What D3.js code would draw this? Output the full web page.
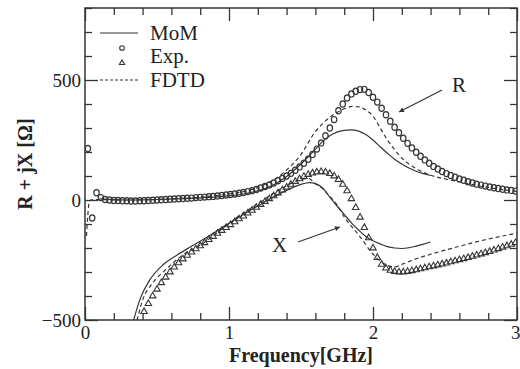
<!DOCTYPE html>
<html>
<head>
<meta charset="utf-8">
<script src="https://cdn.jsdelivr.net/npm/d3@7"></script>
<style>
  html, body { margin: 0; padding: 0; background: #fff; }
  svg { display: block; }
  text { font-family: "Liberation Serif", "DejaVu Serif", serif; fill: #222; }
</style>
</head>
<body>
<svg id="chart" width="520" height="369"></svg>
<script>
// ---------- data ----------
const xTickMajor = [0, 1, 2, 3];
const yTickMajor = [-500, 0, 500];
const legendLabels = ["MoM", "Exp.", "FDTD"];

// Experimental samples (circles = R, triangles = X)
const fExp = [0.02,0.05,0.08,0.11,0.14,0.17,0.20,0.23,0.26,0.29,0.32,0.35,0.38,0.41,0.44,0.47,0.50,0.53,0.56,0.59,
  0.62,0.65,0.68,0.71,0.74,0.77,0.80,0.83,0.86,0.89,0.92,0.95,0.98,1.01,1.04,1.07,1.10,1.13,1.16,1.19,
  1.22,1.25,1.28,1.31,1.34,1.37,1.40,1.43,1.46,1.49,1.52,1.55,1.58,1.61,1.64,1.67,1.70,1.73,1.76,1.79,
  1.82,1.85,1.88,1.91,1.94,1.97,2.00,2.03,2.06,2.09,2.12,2.15,2.18,2.21,2.24,2.27,2.30,2.33,2.36,2.39,
  2.42,2.45,2.48,2.51,2.54,2.57,2.60,2.63,2.66,2.69,2.72,2.75,2.78,2.81,2.84,2.87,2.90,2.93,2.96,2.99];
const rExp = [215,-75,30,10,2,0,-2,-2,-3,-3,-4,-4,-3,-3,-2,-1,0,1,2,3,
  4,5,6,7,8,10,11,12,14,15,17,19,21,23,25,28,31,35,39,44,
  50,56,63,71,80,90,100,111,124,138,153,170,190,212,238,268,300,335,372,400,
  425,442,453,460,461,448,428,408,382,355,328,303,280,257,236,217,199,182,167,153,
  140,129,119,110,102,95,88,82,76,71,66,62,58,54,51,48,45,42,40,37];
const xExp = [null,null,null,null,null,null,null,null,null,null,null,null,null,-465,-432,-400,-372,-345,-322,-300,
  -280,-262,-246,-231,-217,-204,-191,-178,-165,-152,-139,-127,-115,-103,-91,-79,-67,-55,-43,-31,
  -19,-7,5,17,29,41,53,65,77,88,98,106,112,116,118,116,110,100,85,65,
  38,5,-32,-72,-115,-158,-200,-240,-268,-284,-293,-298,-300,-300,-298,-295,-291,-287,-283,-279,
  -275,-271,-267,-263,-258,-254,-249,-245,-240,-235,-230,-225,-220,-215,-209,-203,-197,-191,-185,-178];

// MoM (solid)
const fMoM = [0.10,0.30,0.50,0.70,0.90,1.00,1.10,1.20,1.30,1.40,1.50,1.55,1.60,1.65,1.70,1.75,1.80,1.85,1.90,1.95,2.00,2.05,2.10,2.15,2.20,2.25,2.30,2.35,2.40];
const rMoM = [5,0,2,6,12,17,25,38,60,98,150,180,212,243,268,283,290,292,287,273,250,222,195,170,150,133,120,110,102];
const fMoMX = [0.32,0.38,0.45,0.54,0.64,0.73,0.85,0.96,1.10,1.20,1.30,1.40,1.50,1.56,1.60,1.65,1.70,1.75,1.80,1.85,1.90,1.95,2.00,2.05,2.10,2.15,2.20,2.25,2.30,2.35,2.40];
const xMoM = [-540,-417,-333,-271,-229,-196,-154,-112,-60,-25,10,40,65,72,68,50,12,-25,-60,-95,-125,-152,-170,-183,-194,-200,-202,-199,-192,-184,-175];

// FDTD (dashed)
const fFdtdR = [0.01,0.02,0.03,0.05,0.30,0.60,0.80,1.00,1.10,1.20,1.30,1.40,1.50,1.60,1.65,1.70,1.75,1.80,1.86,1.90,1.95,2.00,2.05,2.10,2.15,2.20,2.28,2.35,2.44,2.50,2.60,2.70,2.80,2.90,3.00];
const rFdtd = [-150,-60,-5,2,0,5,12,25,35,52,80,125,190,285,318,345,365,380,390,388,375,350,300,250,210,175,138,115,96,88,76,63,52,43,36];
const fFdtdX = [0.35,0.40,0.47,0.57,0.68,0.80,0.96,1.05,1.20,1.30,1.40,1.50,1.55,1.60,1.65,1.70,1.75,1.80,1.90,2.00,2.05,2.10,2.15,2.20,2.30,2.40,2.50,2.60,2.70,2.80,2.90,3.00];
const xFdtd = [-530,-417,-346,-285,-229,-188,-117,-75,-15,25,60,85,90,68,48,15,-20,-70,-145,-225,-255,-272,-279,-268,-245,-226,-209,-193,-177,-163,-150,-138];

// ---------- layout ----------
const svg = d3.select("#chart");
const L = 85, T = 8, R = 517, B = 320;
const x = d3.scaleLinear().domain([0, 3]).range([L, R]);
const y = d3.scaleLinear().domain([-500, 800]).range([B, T]);
const ink = "#353535";

svg.append("rect").attr("width", 520).attr("height", 369).attr("fill", "#fff");

svg.append("clipPath").attr("id", "clip")
  .append("rect").attr("x", L).attr("y", T).attr("width", R - L).attr("height", B - T);

// ---------- axes (inward ticks on all four sides) ----------
const minorX = d3.range(0, 3.0001, 0.2).map(v => Math.round(v * 100) / 100).filter(v => !xTickMajor.includes(v));
const minorY = d3.range(-500, 801, 100).filter(v => !yTickMajor.includes(v));

function styleAxis(g) {
  g.select(".domain").remove();
  g.selectAll(".tick line").attr("stroke", ink).attr("stroke-width", 1.3);
  g.selectAll(".tick text").attr("font-size", 19).attr("fill", "#222")
    .attr("font-family", '"Liberation Serif", serif');
}
// bottom
svg.append("g").attr("transform", `translate(0,${B})`)
  .call(d3.axisBottom(x).tickValues(minorX).tickSize(-7).tickFormat(""))
  .call(styleAxis);
const bottomMajor = svg.append("g").attr("transform", `translate(0,${B})`)
  .call(d3.axisBottom(x).tickValues(xTickMajor).tickSize(-13).tickPadding(6).tickFormat(d3.format("d")))
  .call(styleAxis);
// keep the last label ("3") inside the page, as in the reference where it sits at the edge
bottomMajor.selectAll(".tick text").filter(d => d === 3).attr("text-anchor", "end").attr("x", 3);
// top
svg.append("g").attr("transform", `translate(0,${T})`)
  .call(d3.axisTop(x).tickValues(minorX).tickSize(-7).tickFormat(""))
  .call(styleAxis);
svg.append("g").attr("transform", `translate(0,${T})`)
  .call(d3.axisTop(x).tickValues(xTickMajor).tickSize(-13).tickFormat(""))
  .call(styleAxis);
// left
svg.append("g").attr("transform", `translate(${L},0)`)
  .call(d3.axisLeft(y).tickValues(minorY).tickSize(-7).tickFormat(""))
  .call(styleAxis);
svg.append("g").attr("transform", `translate(${L},0)`)
  .call(d3.axisLeft(y).tickValues(yTickMajor).tickSize(-13).tickPadding(4).tickFormat(d3.format("d")))
  .call(styleAxis);
// right
svg.append("g").attr("transform", `translate(${R},0)`)
  .call(d3.axisRight(y).tickValues(minorY).tickSize(-7).tickFormat(""))
  .call(styleAxis);
svg.append("g").attr("transform", `translate(${R},0)`)
  .call(d3.axisRight(y).tickValues(yTickMajor).tickSize(-13).tickFormat(""))
  .call(styleAxis);

// frame
svg.append("rect").attr("x", L).attr("y", T).attr("width", R - L).attr("height", B - T)
  .attr("fill", "none").attr("stroke", ink).attr("stroke-width", 1.5);

// ---------- curves ----------
const plot = svg.append("g").attr("clip-path", "url(#clip)");
const line = d3.line().defined(d => d[1] != null).x(d => x(d[0])).y(d => y(d[1])).curve(d3.curveMonotoneX);
const zip = (a, b) => a.map((v, i) => [v, b[i]]);

function drawLine(fs, vs, dashed) {
  plot.append("path").datum(zip(fs, vs)).attr("d", line)
    .attr("fill", "none").attr("stroke", ink).attr("stroke-width", 1.2)
    .attr("stroke-dasharray", dashed ? "4,3" : null);
}
drawLine(fMoM, rMoM, false);
drawLine(fMoMX, xMoM, false);
drawLine(fFdtdR, rFdtd, true);
drawLine(fFdtdX, xFdtd, true);

// circles (R exp)
plot.selectAll("ellipse.rexp").data(zip(fExp, rExp)).join("ellipse")
  .attr("class", "rexp").attr("cx", d => x(d[0])).attr("cy", d => y(d[1])).attr("rx", 2.7).attr("ry", 3.1)
  .attr("fill", "none").attr("stroke", ink).attr("stroke-width", 1.2);

// triangles (X exp)
const tri = d3.symbol().type(d3.symbolTriangle).size(18);
plot.selectAll("path.xexp").data(zip(fExp, xExp).filter(d => d[1] != null)).join("path")
  .attr("class", "xexp").attr("d", tri)
  .attr("transform", d => `translate(${x(d[0])},${y(d[1])})`)
  .attr("fill", "none").attr("stroke", ink).attr("stroke-width", 1.1);

// ---------- legend ----------
const lg = svg.append("g");
lg.append("line").attr("x1", 100).attr("x2", 138).attr("y1", 33).attr("y2", 33)
  .attr("stroke", ink).attr("stroke-width", 1.2);
lg.append("circle").attr("cx", 122).attr("cy", 48).attr("r", 2.3)
  .attr("fill", "none").attr("stroke", ink).attr("stroke-width", 1.1);
lg.append("path").attr("d", d3.symbol().type(d3.symbolTriangle).size(12))
  .attr("transform", "translate(122,63)")
  .attr("fill", "none").attr("stroke", ink).attr("stroke-width", 1.1);
lg.append("line").attr("x1", 100).attr("x2", 138).attr("y1", 80).attr("y2", 80)
  .attr("stroke", ink).attr("stroke-width", 1.2).attr("stroke-dasharray", "3,2");
const legendY = [40, 63, 87];
lg.selectAll("text").data(legendLabels).join("text")
  .attr("x", 150).attr("y", (d, i) => legendY[i]).attr("font-size", 21).text(d => d);

// ---------- annotations ----------
svg.append("defs").append("marker").attr("id", "ah").attr("viewBox", "0 0 10 10")
  .attr("refX", 10).attr("refY", 5).attr("markerWidth", 7).attr("markerHeight", 5)
  .attr("orient", "auto").attr("markerUnits", "userSpaceOnUse")
  .append("path").attr("d", "M0,0 L10,5 L0,10 z").attr("fill", ink);

svg.append("text").attr("x", 452).attr("y", 92).attr("font-size", 21).text("R");
svg.append("line").attr("x1", 442).attr("y1", 90).attr("x2", 399).attr("y2", 112)
  .attr("stroke", ink).attr("stroke-width", 1.2).attr("marker-end", "url(#ah)");
svg.append("text").attr("x", 272).attr("y", 252).attr("font-size", 21).text("X");
svg.append("line").attr("x1", 298).attr("y1", 242).attr("x2", 340).attr("y2", 227)
  .attr("stroke", ink).attr("stroke-width", 1.2).attr("marker-end", "url(#ah)");

// ---------- axis titles ----------
svg.append("text").attr("x", (L + R) / 2).attr("y", 362).attr("text-anchor", "middle")
  .attr("font-size", 20).attr("font-weight", "bold").text("Frequency[GHz]");
svg.append("text").attr("transform", `translate(32,${(T + B) / 2}) rotate(-90)`)
  .attr("text-anchor", "middle").attr("font-size", 20).attr("font-weight", "bold")
  .text("R + jX [Ω]");
</script>
</body>
</html>
